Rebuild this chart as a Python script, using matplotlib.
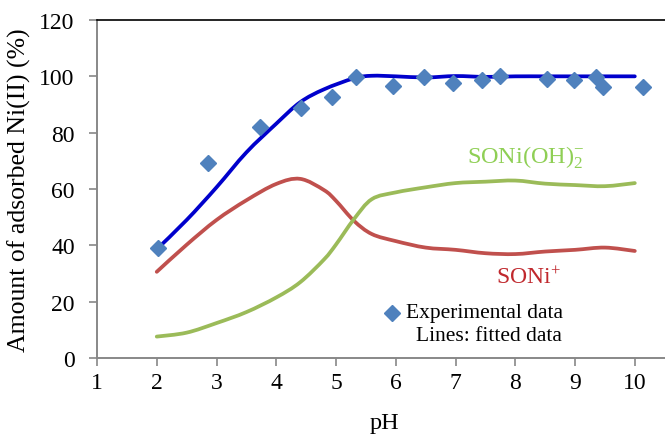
import matplotlib
matplotlib.use("Agg")
import matplotlib.pyplot as plt
from matplotlib.path import Path
from matplotlib.patches import PathPatch

plt.rcParams['font.family'] = ['Liberation Serif', 'DejaVu Serif']
plt.rcParams['mathtext.fontset'] = 'custom'
plt.rcParams['mathtext.rm'] = 'Liberation Serif'
plt.rcParams['mathtext.it'] = 'Liberation Serif'

# experimental adsorption points
ph_exp = [2.02, 2.85, 3.73, 4.42, 4.93, 5.33, 5.95, 6.47, 6.95, 7.45,
          7.75, 8.53, 8.98, 9.35, 9.47, 10.13]
ads_exp = [39.0, 69.2, 82.0, 88.7, 92.6, 99.7, 96.6, 99.7, 97.6, 98.7,
           100.0, 99.0, 98.7, 99.7, 96.2, 96.2]

# fitted total adsorption
ph_fit = [2.0, 2.5, 3.0, 3.5, 4.0, 4.4, 4.8, 5.3, 5.6, 6.0, 6.5,
          7.0, 7.5, 8.0, 8.5, 9.0, 9.5, 10.0]
ads_fit = [38.6, 49.0, 60.6, 73.0, 83.2, 90.8, 95.4, 99.3, 100.2,
           100.0, 99.6, 100.1, 99.8, 100.0, 100.0, 100.0, 100.0, 100.0]

# species: SONi+
ph_sp = [2.0, 2.5, 3.0, 3.5, 4.0, 4.4, 4.8, 5.0, 5.3, 5.6, 6.0, 6.5,
         7.0, 7.5, 8.0, 8.5, 9.0, 9.5, 10.0]
soni = [30.6, 40.2, 49.0, 56.0, 61.8, 63.6, 59.6, 55.8, 48.7, 44.0, 41.5,
        39.2, 38.4, 37.2, 36.9, 37.8, 38.4, 39.2, 38.0]
# species: SONi(OH)2-
soni_oh2 = [7.6, 9.0, 12.4, 16.3, 21.5, 26.9, 35.0, 40.3, 49.3, 56.4, 58.8,
            60.6, 62.1, 62.6, 63.0, 61.9, 61.4, 61.0, 62.1]


def smooth_line(ax, xs, ys, **kw):
    """Spreadsheet-style smoothed line: cubic Bezier through every point."""
    n = len(xs)
    verts = [(xs[0], ys[0])]
    codes = [Path.MOVETO]
    for i in range(n - 1):
        x0, y0 = (xs[i - 1], ys[i - 1]) if i > 0 else (xs[i], ys[i])
        x3, y3 = (xs[i + 2], ys[i + 2]) if i + 2 < n else (xs[i + 1], ys[i + 1])
        x1, y1 = xs[i], ys[i]
        x2, y2 = xs[i + 1], ys[i + 1]
        c1 = (x1 + (x2 - x0) / 6.0, y1 + (y2 - y0) / 6.0)
        c2 = (x2 - (x3 - x1) / 6.0, y2 - (y3 - y1) / 6.0)
        verts += [c1, c2, (x2, y2)]
        codes += [Path.CURVE4] * 3
    patch = PathPatch(Path(verts, codes), fill=False, capstyle='round',
                      joinstyle='round', **kw)
    ax.add_patch(patch)
    return patch


fig = plt.figure(figsize=(6.65, 4.35), dpi=100)
ax = fig.add_axes([97 / 665, 76 / 435, 1.0 - 97 / 665 + 0.01, 338 / 435])

smooth_line(ax, ph_sp, soni, edgecolor='#C0504D', lw=2.7, zorder=2)
smooth_line(ax, ph_sp, soni_oh2, edgecolor='#9BBB59', lw=2.7, zorder=2)
smooth_line(ax, ph_fit, ads_fit, edgecolor='#0000CC', lw=2.7, zorder=3)
ax.plot(ph_exp, ads_exp, ls='none', marker='D', ms=8, color='#4F81BD',
        markeredgecolor='#4F81BD', zorder=4)

ax.set_xlim(1, 10 + (665 - 637) / 60 + 0.15)
ax.set_ylim(0, 120)
ax.set_xticks(range(1, 11))
ax.set_yticks(range(0, 121, 20))
ax.tick_params(axis='both', labelsize=17, length=6, width=1.2, color='#888888',
               direction='out')
ax.tick_params(axis='y', pad=10)
ax.tick_params(axis='x', pad=4)
for side in ('left', 'bottom'):
    ax.spines[side].set_color('#888888')
    ax.spines[side].set_linewidth(1.4)
ax.spines['top'].set_color('black')
ax.spines['top'].set_linewidth(1.2)
ax.spines['right'].set_visible(False)

ax.set_xlabel('pH', fontsize=17.5, labelpad=14)
ax.set_ylabel('Amount of adsorbed Ni(II) (%)', fontsize=18.5, labelpad=6)

ax.text(7.2, 71.4, r'SONi(OH)$_{2}^{\mathregular{-}}$', color='#8FCF55',
        fontsize=17.5, ha='left', va='center')
ax.text(7.67, 28.8, r'SONi$^{\mathregular{+}}$', color='#C0282D',
        fontsize=17, ha='left', va='center')

ax.plot([5.93], [16.0], ls='none', marker='D', ms=8, color='#4F81BD')
ax.text(6.17, 16.0, 'Experimental data', fontsize=15.5, ha='left', va='center')
ax.text(8.78, 8.0, 'Lines: fitted data', fontsize=15.5, ha='right', va='center')

fig.savefig('out.png', dpi=100)
